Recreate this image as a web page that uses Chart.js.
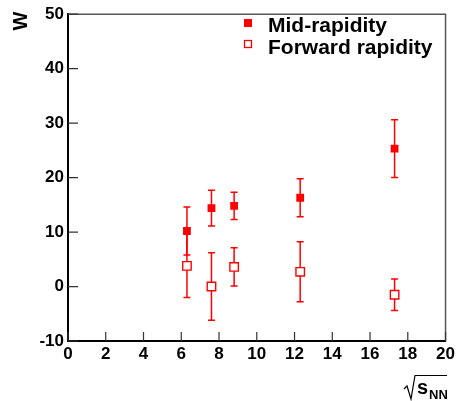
<!DOCTYPE html>
<html>
<head>
<meta charset="utf-8">
<script src="https://cdn.jsdelivr.net/npm/chart.js@4.4.1/dist/chart.umd.min.js"></script>
<style>
  body { margin: 0; background: #fff; }
  #wrap { width: 458px; height: 401px; }
</style>
</head>
<body>
<div id="wrap"><canvas id="c" width="458" height="401"></canvas></div>
<script>
// sqrt(s_NN) in GeV
const energies = [6.3, 7.6, 8.8, 12.3, 17.3];
const midW = [10.2, 14.4, 14.8, 16.3, 25.3];
const midErr = [4.4, 3.3, 2.5, 3.5, 5.3];
const fwdW = [3.8, 0.0, 3.6, 2.7, -1.5];
const fwdErr = [5.8, 6.2, 3.5, 5.5, 2.9];
const xTicks = [0, 2, 4, 6, 8, 10, 12, 14, 16, 18, 20];
const yTicks = [-10, 0, 10, 20, 30, 40, 50];

const RED = "#ff0000";
const FONT = "'Liberation Sans', Arial, sans-serif";

function points(ys, errs) {
  return energies.map((x, i) => ({ x: x, y: ys[i], err: errs[i] }));
}

// error bars drawn under the markers
const errorBars = {
  id: "errorBars",
  beforeDatasetsDraw(chart) {
    const ctx = chart.ctx;
    const xs = chart.scales.x, ys = chart.scales.y;
    ctx.save();
    ctx.strokeStyle = RED;
    ctx.lineWidth = 1.5;
    chart.data.datasets.forEach(ds => {
      ds.data.forEach(p => {
        const px = xs.getPixelForValue(p.x);
        const top = ys.getPixelForValue(p.y + p.err);
        const bot = ys.getPixelForValue(p.y - p.err);
        ctx.beginPath();
        ctx.moveTo(px, top); ctx.lineTo(px, bot);
        ctx.moveTo(px - 3.5, top); ctx.lineTo(px + 3.5, top);
        ctx.moveTo(px - 3.5, bot); ctx.lineTo(px + 3.5, bot);
        ctx.stroke();
      });
    });
    ctx.restore();
  }
};

// ROOT style frame, inward ticks, legend and axis titles
const frame = {
  id: "frame",
  afterDraw(chart) {
    const ctx = chart.ctx;
    const a = chart.chartArea;
    const xs = chart.scales.x, ys = chart.scales.y;
    ctx.save();
    ctx.strokeStyle = "#555";
    ctx.lineWidth = 1.5;
    ctx.beginPath();
    ctx.moveTo(a.left, a.top); ctx.lineTo(a.right, a.top); ctx.lineTo(a.right, a.bottom);
    ctx.stroke();

    ctx.strokeStyle = "#333";
    ctx.lineWidth = 1.2;
    ctx.beginPath();
    xTicks.forEach(v => {
      const px = xs.getPixelForValue(v);
      ctx.moveTo(px, a.bottom); ctx.lineTo(px, a.bottom - 9);
    });
    yTicks.forEach(v => {
      const py = ys.getPixelForValue(v);
      ctx.moveTo(a.left, py); ctx.lineTo(a.left + 10, py);
    });
    ctx.stroke();

    // legend
    ctx.fillStyle = RED;
    ctx.fillRect(244, 19, 8, 8);
    ctx.fillStyle = "#fff";
    ctx.fillRect(244, 40, 8, 8);
    ctx.strokeStyle = RED;
    ctx.lineWidth = 1.3;
    ctx.strokeRect(244.5, 40.5, 7, 7);
    ctx.fillStyle = "#000";
    ctx.font = "bold 21px " + FONT;
    ctx.textBaseline = "alphabetic";
    ctx.textAlign = "left";
    ctx.fillText(chart.data.datasets[0].label, 268, 32);
    ctx.fillText(chart.data.datasets[1].label, 268, 54);

    // y title
    ctx.save();
    ctx.translate(27, 21);
    ctx.rotate(-Math.PI / 2);
    ctx.font = "bold 20px " + FONT;
    ctx.textAlign = "center";
    ctx.fillText("W", 0, 0);
    ctx.restore();

    // x title: sqrt(s_NN)
    ctx.strokeStyle = "#000";
    ctx.lineWidth = 1.2;
    ctx.beginPath();
    ctx.moveTo(404, 389);
    ctx.lineTo(407, 386);
    ctx.lineTo(411, 399);
    ctx.lineTo(415, 375.5);
    ctx.lineTo(447, 375.5);
    ctx.stroke();
    ctx.font = "bold 20px " + FONT;
    ctx.fillText("s", 417, 394);
    ctx.font = "bold 13px " + FONT;
    ctx.fillText("NN", 429, 399);
    ctx.restore();
  }
};

new Chart(document.getElementById("c"), {
  type: "scatter",
  data: {
    datasets: [
      {
        label: "Mid-rapidity",
        data: points(midW, midErr),
        pointStyle: "rect",
        pointRadius: 5.5,
        pointHoverRadius: 5.5,
        backgroundColor: RED,
        borderColor: RED,
        borderWidth: 0
      },
      {
        label: "Forward rapidity",
        data: points(fwdW, fwdErr),
        pointStyle: "rect",
        pointRadius: 6,
        pointHoverRadius: 6,
        backgroundColor: "#fff",
        borderColor: RED,
        borderWidth: 1.4
      }
    ]
  },
  options: {
    responsive: false,
    animation: false,
    events: [],
    layout: { padding: { top: 11, right: 10, left: 0, bottom: 0 } },
    plugins: { legend: { display: false }, tooltip: { enabled: false } },
    scales: {
      x: {
        type: "linear",
        min: 0, max: 20,
        afterFit: s => { s.height = 60; },
        afterBuildTicks: s => { s.ticks = xTicks.map(v => ({ value: v })); },
        grid: { display: false, drawTicks: false },
        border: { display: true, color: "#000", width: 2 },
        ticks: { color: "#000", padding: 3, maxRotation: 0, font: { family: FONT, size: 17, weight: "bold" } }
      },
      y: {
        type: "linear",
        min: -10, max: 50,
        afterFit: s => { s.width = 68; },
        afterBuildTicks: s => { s.ticks = yTicks.map(v => ({ value: v })); },
        grid: { display: false, drawTicks: false },
        border: { display: true, color: "#000", width: 2 },
        ticks: { color: "#000", padding: 4, font: { family: FONT, size: 17, weight: "bold" } }
      }
    }
  },
  plugins: [errorBars, frame]
});
</script>
</body>
</html>
